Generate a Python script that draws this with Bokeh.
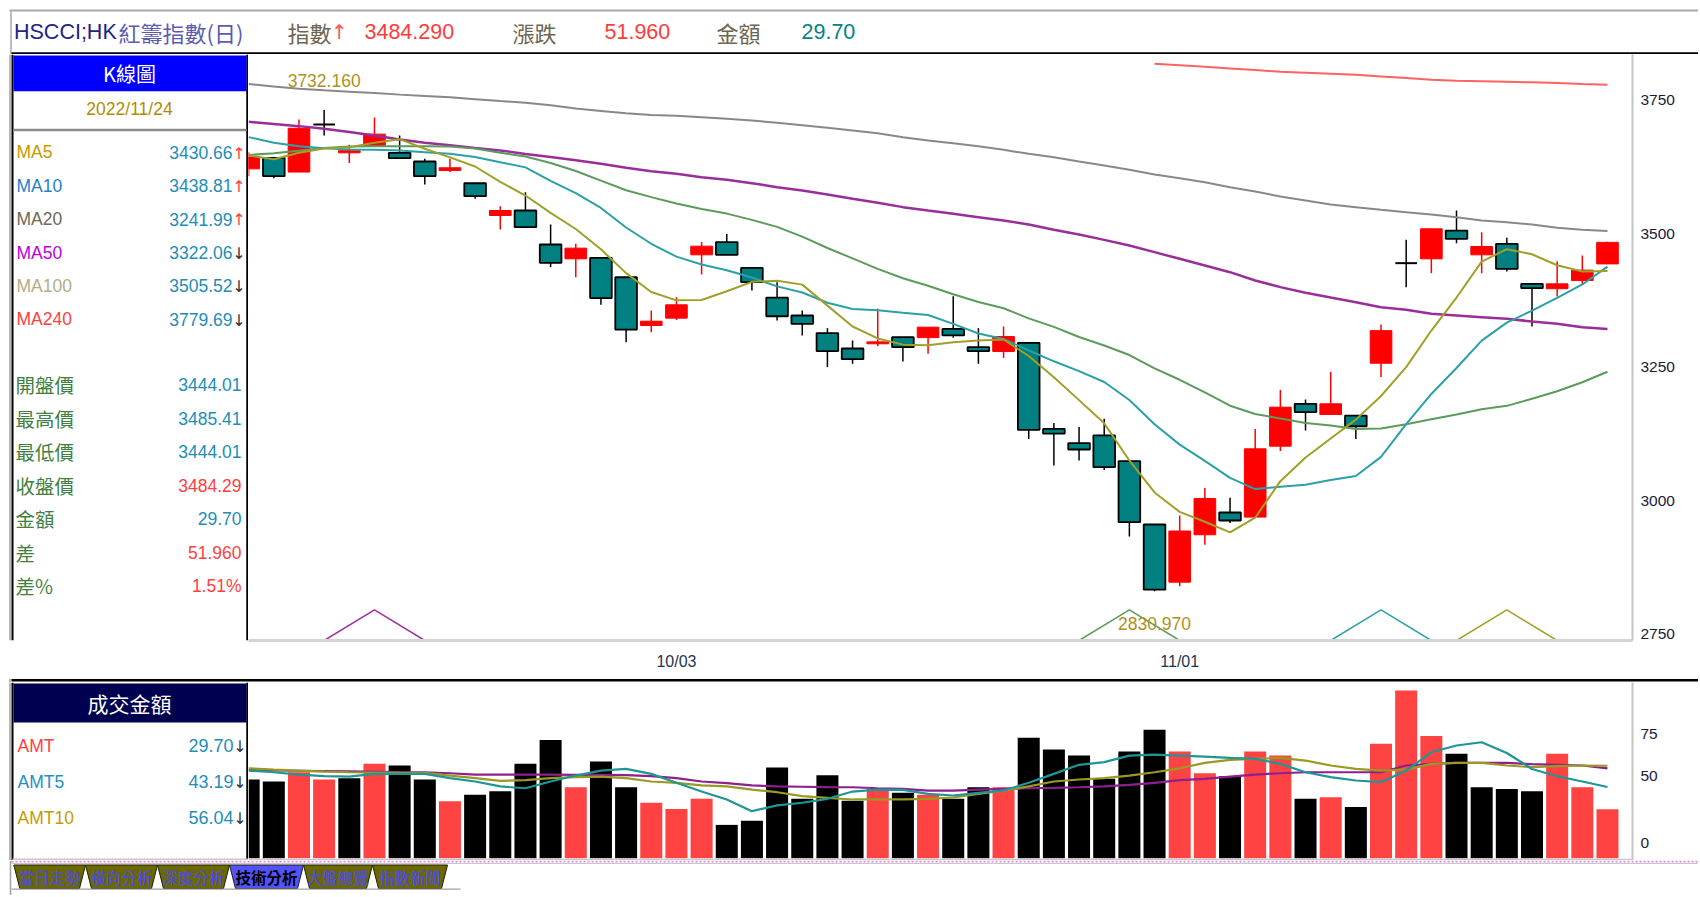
import numpy as np
from bokeh.plotting import figure
from bokeh.layouts import column, row
from bokeh.models import Range1d, FixedTicker, LinearAxis, Span, ColumnDataSource
from bokeh.core.properties import value
from bokeh.embed import file_html
from bokeh.resources import INLINE

SANS = "Liberation Sans"
CJK = "Noto Sans CJK TC"
ARROWF = "DejaVu Sans"

# ---------------- data ----------------
opens = [3622, 3642.7, 3616, 3705, 3652, 3665.7, 3652, 3635.8, 3619, 3595,
         3534.6, 3544, 3480.3, 3453.5, 3455.4, 3419, 3328.7, 3342.4, 3461, 3484.9,
         3436.6, 3381, 3347.4, 3314.5, 3285.6, 3294.4, 3306.8, 3306, 3322.4, 3288,
         3280, 3296, 3135, 3108.4, 3122.8, 3074.7, 2956, 2848, 2936.8, 2978.5,
         2969.8, 3102.6, 3182, 3162, 3160, 3258, 3445.4, 3453.5, 3506.5, 3461,
         3481.6, 3406.6, 3397.5, 3413, 3444.01]
highs = [3653, 3643, 3714.4, 3732.16, 3667, 3718, 3684.5, 3640.8, 3641, 3595,
         3552, 3578, 3517.8, 3481.6, 3455.4, 3419, 3356.7, 3381.7, 3484.9, 3500,
         3436.6, 3409.8, 3356.7, 3323.7, 3300.6, 3360, 3306.8, 3325.5, 3383.6, 3323.7,
         3326.8, 3296, 3146, 3138.4, 3154, 3074.7, 2956, 2972.8, 3024.2, 3006,
         3135, 3208, 3190, 3242, 3160, 3330.5, 3489.2, 3509.7, 3544, 3503.4,
         3493, 3406.6, 3449, 3459.7, 3485.41]
lows = [3608, 3604.5, 3616, 3684.5, 3633, 3665.7, 3642, 3592.7, 3616, 3566,
        3508.4, 3512.8, 3438, 3419, 3367.4, 3297.4, 3316, 3339, 3424.2, 3461,
        3394, 3338, 3310, 3250.7, 3257, 3290, 3261, 3275.6, 3305.6, 3257,
        3268, 3116, 3066.5, 3075.8, 3058, 2933.5, 2830.97, 2840.5, 2918, 2958.6,
        2969.8, 3093.6, 3132, 3162, 3116, 3232, 3400.4, 3426.6, 3482.8, 3426.6,
        3430, 3326.8, 3383, 3405, 3444.01]
closes = [3644, 3608.3, 3698, 3705, 3656, 3687, 3642, 3608.3, 3624, 3570.8,
          3544, 3512.8, 3446, 3473.5, 3380, 3321, 3336.7, 3367.4, 3477.2, 3461,
          3409.8, 3346, 3331.8, 3280.8, 3265.6, 3298, 3288, 3325.5, 3310, 3280.7,
          3308, 3133.3, 3126, 3096.4, 3063.3, 2960.4, 2834, 2943.8, 3004.7, 2963.5,
          3097.7, 3175.7, 3166.5, 3182, 3140, 3319, 3445.4, 3509.7, 3491, 3476.6,
          3434.8, 3398.6, 3406.6, 3432.33, 3484.29]

ma5 = [3647, 3640, 3652, 3660, 3662.3, 3670.9, 3677.6, 3659.7, 3643.5, 3626.4,
       3597.8, 3572.0, 3539.5, 3509.4, 3471.3, 3426.7, 3391.4, 3375.7, 3376.5, 3392.7,
       3410.4, 3412.3, 3405.2, 3365.9, 3326.8, 3304.4, 3292.8, 3291.6, 3297.4, 3300.4,
       3302.4, 3271.5, 3231.6, 3188.9, 3145.4, 3075.9, 3016.0, 2979.6, 2961.2, 2941.3,
       2968.7, 3037.1, 3081.6, 3117.1, 3152.4, 3196.6, 3250.6, 3319.2, 3381.0, 3448.3,
       3471.5, 3462.1, 3441.5, 3429.9, 3430.66]
ma10 = [3681.4, 3670.7, 3664.5, 3660.7, 3658.2, 3657.6, 3656.4, 3653.3, 3650.1, 3644.3,
        3634.3, 3624.8, 3599.6, 3576.4, 3548.8, 3512.2, 3481.7, 3457.6, 3442.9, 3432.0,
        3418.5, 3401.9, 3390.4, 3371.2, 3359.7, 3357.4, 3352.6, 3348.4, 3331.7, 3313.6,
        3303.4, 3282.2, 3261.6, 3243.2, 3222.9, 3189.2, 3143.8, 3105.6, 3075.1, 3043.3,
        3022.3, 3026.6, 3030.6, 3039.2, 3046.8, 3082.7, 3143.8, 3200.4, 3249.1, 3300.4,
        3334.1, 3356.4, 3380.4, 3405.5, 3438.81]
ma20 = [3648, 3651, 3656, 3661, 3664, 3664.5, 3664.5, 3664.5, 3664, 3660,
        3652, 3645, 3633, 3618, 3600, 3582, 3569, 3557, 3547, 3538.2,
        3526.4, 3513.3, 3495.0, 3473.8, 3454.3, 3434.8, 3417.1, 3403.0, 3387.3, 3372.8,
        3361.0, 3342.0, 3326.0, 3307.2, 3291.3, 3273.3, 3248.2, 3227.0, 3203.4, 3178.5,
        3162.9, 3154.4, 3146.1, 3141.2, 3134.9, 3135.9, 3143.8, 3153.0, 3162.1, 3171.9,
        3178.2, 3191.5, 3205.5, 3222.3, 3241.99]
ma50 = [3710, 3706, 3702, 3697, 3691, 3684.5, 3677, 3671, 3666, 3661,
        3656.4, 3650, 3644, 3638, 3631.4, 3624, 3617.7, 3612.7, 3606.4, 3601.4,
        3595.2, 3587.7, 3581.5, 3574, 3565.9, 3558.4, 3550.3, 3544, 3537.8, 3531.5,
        3525.3, 3517.8, 3507.8, 3499, 3489, 3478.5, 3466, 3453.5, 3441, 3428.5,
        3413, 3400.5, 3390, 3381, 3372.3, 3363, 3358, 3350.5, 3347.4, 3344.3,
        3341.2, 3336.1, 3331.8, 3325.5, 3322.06]
ma100 = [3781, 3776, 3772, 3769, 3766.5, 3764, 3761, 3758.5, 3756, 3752.5,
         3749, 3746, 3741, 3735, 3730.5, 3726, 3723, 3721.3, 3718.8, 3715.7,
         3712.6, 3708.2, 3703.8, 3698.8, 3693.8, 3688.8, 3681.3, 3675.1, 3670.1, 3664.5,
         3657.6, 3650.1, 3643.9, 3635.8, 3628.3, 3620.2, 3611.4, 3604.6, 3597.1, 3587.7,
         3579.6, 3570.2, 3562.7, 3555.2, 3550.2, 3545.3, 3540.9, 3536.5, 3531.5, 3525.3,
         3522.2, 3517.8, 3511.6, 3507.9, 3505.52]
# MA240 is above the top of the chart (not visible) before the 37th session
ma240 = [np.nan] * 36 + [3819, 3816, 3813, 3810, 3807, 3804, 3802, 3800, 3798, 3795,
                         3792, 3789, 3787, 3786, 3785, 3784, 3783, 3781, 3779.69]

amt = [47.7, 46.5, 52.1, 47.7, 48.5, 57.2, 56.2, 47.7, 34.5, 38.4,
       40.6, 57.2, 71.7, 43.0, 58.6, 43.0, 33.6, 29.9, 36.0, 20.2,
       22.7, 55.0, 36.0, 50.3, 34.8, 42.0, 39.6, 38.4, 36.0, 43.0,
       43.0, 73.0, 65.9, 62.2, 48.1, 64.7, 77.8, 64.7, 51.5, 49.7,
       64.7, 62.2, 36.0, 37.0, 31.1, 69.3, 101.6, 74.0, 63.3, 43.0,
       42.0, 40.6, 63.3, 43.0, 29.70]
amt_up = [0, 0, 1, 1, 0, 1, 0, 0, 1, 0,
          0, 0, 0, 1, 0, 0, 1, 1, 1, 0,
          0, 0, 0, 0, 0, 1, 0, 1, 0, 0,
          1, 0, 0, 0, 0, 0, 0, 1, 1, 0,
          1, 1, 0, 1, 0, 1, 1, 1, 0, 0,
          0, 0, 1, 1, 1]
amt5 = [53.1, 52.1, 50.7, 49.7, 49.5, 51.1, 51.1, 51.1, 48.5, 46.5,
        43.5, 42.4, 46.5, 50.1, 53.1, 54.1, 51.1, 45.7, 40.4, 35.6,
        28.5, 32.0, 33.6, 36.0, 40.4, 41.6, 41.4, 39.0, 38.0, 39.6,
        41.0, 45.7, 51.1, 56.6, 58.2, 62.2, 62.8, 62.2, 61.6, 60.8,
        60.2, 57.2, 52.1, 49.1, 47.1, 46.1, 53.1, 64.2, 68.3, 70.3,
        63.8, 54.1, 49.7, 46.5, 43.19]
amt10 = [54.5, 53.7, 53.1, 52.5, 52.1, 51.9, 51.7, 51.7, 50.1, 48.5,
         46.9, 47.3, 48.5, 49.1, 49.5, 48.5, 46.5, 45.7, 44.1, 43.5,
         41.6, 40.0, 37.6, 36.6, 35.6, 35.6, 35.6, 36.0, 36.8, 39.0,
         41.0, 43.5, 46.5, 47.7, 48.5, 50.1, 52.1, 54.5, 57.8, 59.6,
         60.2, 60.8, 59.2, 56.2, 54.1, 53.1, 53.7, 57.2, 57.8, 57.8,
         56.2, 55.2, 55.8, 56.2, 56.04]
amt20 = [53.5, 53.2, 53.0, 52.8, 52.6, 52.4, 52.2, 52.1, 51.5, 50.7,
         50.7, 50.7, 50.7, 50.5, 50.5, 50.3, 49.7, 48.5, 46.5, 45.5,
         44.1, 43.5, 43.3, 43.1, 43.0, 42.4, 42.0, 41.0, 41.0, 41.6,
         42.0, 42.4, 42.6, 43.0, 43.5, 44.5, 45.7, 47.3, 48.1, 49.5,
         50.7, 51.5, 52.1, 52.1, 52.1, 52.1, 56.2, 57.2, 57.8, 57.8,
         57.8, 57.0, 56.6, 56.2, 54.5]

date_ticks = [17, 37]
date_labels = ["10/03", "11/01"]
price_ticks = [2750, 3000, 3250, 3500, 3750]
vol_ticks = [9, 50, 75]          # the "0" label sits a little above the base, as in the reference
vol_labels = ["0", "50", "75"]

# small turning-point marks at the bottom of the price panel
mark_peaks = [5, 35, 45, 50]
mark_colors = ["#a030a0", "#5b9b5b", "#2aa0a8", "#a0a028"]
mark_top = 2796

change = 51.96
tabs = ["當日走勢", "橫向分析", "深度分析", "技術分析", "大盤總覽", "指數新聞"]
active_tab = 3

n = len(closes)
idx = list(range(n))

C_RED = "#ff0000"
C_TEAL = "#008080"
C_VRED = "#ff4242"
MA_COL = {"MA5": "#a0a028", "MA10": "#2aa0a8", "MA20": "#5b9b5b",
          "MA50": "#9b2d9b", "MA100": "#888888", "MA240": "#ff6262"}


# ---------------- helpers ----------------
def chrome(w, h, x0, y0):
    f = figure(width=w, height=h, x_range=Range1d(x0, x0 + w), y_range=Range1d(y0 + h, y0),
               output_backend="svg", toolbar_location=None, x_axis_type=None, y_axis_type=None,
               min_border=0, outline_line_color=None)
    f.background_fill_color = "white"
    f.border_fill_color = "white"
    return f


def T(f, x, y, s, color, size, font, align="left", baseline="middle", style="normal"):
    f.text(x=[x], y=[y], text=[s], text_color=color, text_font=value(font),
           text_font_size=f"{size}px", text_align=align, text_baseline=baseline,
           text_font_style=style)


def L(f, x0, y0, x1, y1, color, w, dash="solid"):
    f.segment(x0=[x0], y0=[y0], x1=[x1], y1=[y1], line_color=color, line_width=w, line_dash=dash)


def R(f, l, r, t, b, color, line=None):
    f.quad(left=[l], right=[r], top=[t], bottom=[b], fill_color=color, line_color=line)


W = 1698
XR = 1698  # right edge of the page content

# ---------------- header ----------------
hdr = chrome(W, 54, 0, 0)
L(hdr, 9, 10, XR, 10, "#a8a8a8", 2)
L(hdr, 10.5, 10, 10.5, 54, "#a8a8a8", 1.5)
L(hdr, 11, 53, XR, 53, "#000000", 2.5)
HY = 31
T(hdr, 13.5, HY, "HSCCI;HK", "#1e2488", 21.5, SANS)
T(hdr, 118, HY, "紅籌指數(日)", "#5c5cb0", 22, CJK)
T(hdr, 287, HY, "指數", "#6b6650", 22, CJK)
T(hdr, 339, HY, "↑", "#ff5050", 20, ARROWF, align="center")
T(hdr, 364, HY, f"{closes[-1]:.3f}", "#ff3b3b", 21.5, SANS)
T(hdr, 512, HY, "漲跌", "#6b6650", 22, CJK)
T(hdr, 604, HY, f"{change:.3f}", "#ff3b3b", 21.5, SANS)
T(hdr, 716, HY, "金額", "#6b6650", 22, CJK)
T(hdr, 801, HY, f"{amt[-1]:.2f}", "#008484", 21.5, SANS)

# ---------------- left panel (price) ----------------
lp = chrome(248, 620, 0, 54)
L(lp, 9.5, 54, 9.5, 674, "#a0a0a0", 1.5)
L(lp, 12, 54, 12, 674, "#000000", 2)
L(lp, 247, 54, 247, 674, "#000000", 2.5)
R(lp, 13, 246, 55, 93, "#0000ff")
T(lp, 129, 74, "K線圖", "#ffffff", 20, CJK, align="center")
T(lp, 129, 111.5, "2022/11/24", "#b08c00", 17.5, SANS, align="center")
L(lp, 13, 134, 246, 134, "#8c8c8c", 2.5)

ma_names = ["MA5", "MA10", "MA20", "MA50", "MA100", "MA240"]
ma_series = [ma5, ma10, ma20, ma50, ma100, ma240]
ma_label_cols = ["#c89a00", "#1f7fc8", "#6b6b55", "#c000dc", "#b4ad86", "#ff4040"]
ma_dirs = ["↑", "↑", "↑", "↓", "↓", "↓"]
VAL = "#1e8db8"
for k, nm in enumerate(ma_names):
    y = 157.3 + k * 35.4
    T(lp, 16, y, nm, ma_label_cols[k], 17.5, SANS)
    T(lp, 232, y, f"{ma_series[k][-1]:.2f}", VAL, 17.5, SANS, align="right")
    T(lp, 238.5, y + 1, ma_dirs[k], "#ff4040" if ma_dirs[k] == "↑" else "#333333", 16, ARROWF, align="center")

q_labels = ["開盤價", "最高價", "最低價", "收盤價", "金額", "差", "差%"]
q_values = [f"{opens[-1]:.2f}", f"{highs[-1]:.2f}", f"{lows[-1]:.2f}", f"{closes[-1]:.2f}",
            f"{amt[-1]:.2f}", f"{change:.3f}", f"{change / closes[-2] * 100:.2f}%"]
q_cols = [VAL, VAL, VAL, "#ff4040", VAL, "#ff4040", "#ff4040"]
for k, nm in enumerate(q_labels):
    y = 403.5 + k * 35.4
    T(lp, 15, y, nm, "#3f7f3f", 19.5, CJK)
    T(lp, 241, y, q_values[k], q_cols[k], 17.5, SANS, align="right")

# ---------------- price chart ----------------
xr = Range1d(-0.006, 54.994)
p = figure(width=W - 248, height=620, x_range=xr, y_range=Range1d(2738.76, 3836.14),
           output_backend="svg", toolbar_location=None, x_axis_type=None, y_axis_type=None,
           min_border_left=0, min_border_top=0, min_border_right=W - 1632, min_border_bottom=34,
           outline_line_color=None)
p.background_fill_color = "white"
p.border_fill_color = "white"

yax = LinearAxis(ticker=FixedTicker(ticks=price_ticks))
yax.axis_line_color = "#c4c4c4"
yax.axis_line_width = 2
yax.major_tick_line_color = None
yax.minor_tick_line_color = None
yax.major_label_text_font = SANS
yax.major_label_text_font_size = "15.5px"
yax.major_label_text_color = "#1a1a3a"
yax.major_label_standoff = 2
p.add_layout(yax, "right")

xax = LinearAxis(ticker=FixedTicker(ticks=date_ticks),
                 major_label_overrides={t: s for t, s in zip(date_ticks, date_labels)})
xax.axis_line_color = "#d4d4d4"
xax.axis_line_width = 3
xax.major_tick_line_color = None
xax.minor_tick_line_color = None
xax.major_label_text_font = SANS
xax.major_label_text_font_size = "16px"
xax.major_label_text_color = "#1c3650"
xax.major_label_standoff = 6
p.add_layout(xax, "below")

# bottom marks
p.multi_line(xs=[[m - 2, m, m + 2] for m in mark_peaks],
             ys=[[2738.76, mark_top, 2738.76] for m in mark_peaks],
             line_color=mark_colors, line_width=1.5)

up = [i for i in idx if closes[i] > opens[i]]
dn = [i for i in idx if closes[i] < opens[i]]
dj = [i for i in idx if closes[i] == opens[i]]
BW = 0.86

p.segment(x0=up, x1=up, y0=[lows[i] for i in up], y1=[highs[i] for i in up], line_color=C_RED, line_width=1.5)
p.segment(x0=dn + dj, x1=dn + dj, y0=[lows[i] for i in dn + dj], y1=[highs[i] for i in dn + dj],
          line_color="#000000", line_width=1.5)
p.vbar(x=up, width=BW, bottom=[opens[i] for i in up], top=[closes[i] for i in up],
       fill_color=C_RED, line_color=C_RED, line_width=1)
p.vbar(x=dn, width=BW, bottom=[closes[i] for i in dn], top=[opens[i] for i in dn],
       fill_color=C_TEAL, line_color="#000000", line_width=1.8)
p.segment(x0=[i - BW / 2 for i in dj], x1=[i + BW / 2 for i in dj], y0=[opens[i] for i in dj],
          y1=[opens[i] for i in dj], line_color="#000000", line_width=2)

for nm, ser, w in [("MA100", ma100, 2), ("MA240", ma240, 2), ("MA50", ma50, 2.5),
                   ("MA20", ma20, 2), ("MA10", ma10, 2), ("MA5", ma5, 2)]:
    p.line(x=np.array(idx, dtype=float), y=np.array(ser, dtype=float), line_color=MA_COL[nm], line_width=w)

hi_i = int(np.argmax(highs))
lo_i = int(np.argmin(lows))
p.text(x=[hi_i], y=[highs[hi_i]], text=[f"{highs[hi_i]:.3f}"], text_color="#b0901a",
       text_font=value(SANS), text_font_size="17.5px", text_align="center",
       text_baseline="bottom", y_offset=-23)
p.text(x=[lo_i], y=[lows[lo_i]], text=[f"{lows[lo_i]:.3f}"], text_color="#b0901a",
       text_font=value(SANS), text_font_size="17.5px", text_align="center",
       text_baseline="top", y_offset=26)

# ---------------- separator ----------------
sep = chrome(W, 8, 0, 674)
L(sep, 9.5, 674, 9.5, 682, "#a0a0a0", 1.5)
L(sep, 11, 675.8, XR, 675.8, "#000000", 2.5)
L(sep, 11, 680.5, XR, 680.5, "#c8c8c8", 2)

# ---------------- left panel (volume) ----------------
lv = chrome(248, 178, 0, 682)
L(lv, 9.5, 682, 9.5, 860, "#a0a0a0", 1.5)
L(lv, 12, 682, 12, 860, "#000000", 2)
L(lv, 247, 682, 247, 860, "#000000", 2.5)
L(lv, 12, 859, 248, 859, "#c8c8c8", 2)
R(lv, 13, 246, 683, 722, "#000050")
T(lv, 129, 702.5, "成交金額", "#ffffff", 21, CJK, align="center")
amt_names = ["AMT", "AMT5", "AMT10"]
amt_series = [amt, amt5, amt10]
amt_cols = ["#ff4040", "#1f8fc8", "#c89a00"]
for k, nm in enumerate(amt_names):
    y = 745 + k * 36
    T(lv, 17, y, nm, amt_cols[k], 17.5, SANS)
    T(lv, 233, y, f"{amt_series[k][-1]:.2f}", VAL, 18, SANS, align="right")
    T(lv, 239.5, y + 1, "↓", "#333333", 16, ARROWF, align="center")

# ---------------- volume chart ----------------
v = figure(width=W - 248, height=178, x_range=xr, y_range=Range1d(-1.39, 106.5),
           output_backend="svg", toolbar_location=None, x_axis_type=None, y_axis_type=None,
           min_border_left=0, min_border_top=0, min_border_right=W - 1632, min_border_bottom=0,
           outline_line_color=None)
v.background_fill_color = "white"
v.border_fill_color = "white"
vax = LinearAxis(ticker=FixedTicker(ticks=vol_ticks),
                 major_label_overrides={t: s for t, s in zip(vol_ticks, vol_labels)})
vax.axis_line_color = "#c4c4c4"
vax.axis_line_width = 2
vax.major_tick_line_color = None
vax.minor_tick_line_color = None
vax.major_label_text_font = SANS
vax.major_label_text_font_size = "15.5px"
vax.major_label_text_color = "#1a1a3a"
vax.major_label_standoff = 2
v.add_layout(vax, "right")
v.add_layout(Span(location=-0.9, dimension="width", line_color="#c8c8c8", line_width=2))

vsrc = ColumnDataSource(dict(x=idx, top=amt, color=[C_VRED if u else "#000000" for u in amt_up]))
v.vbar(x="x", top="top", bottom=0, width=0.875, fill_color="color", line_color=None, source=vsrc)
v.line(x=idx, y=amt20, line_color="#8e1f8e", line_width=2.2)
v.line(x=idx, y=amt10, line_color="#9a9a22", line_width=2.2)
v.line(x=idx, y=amt5, line_color="#1f9696", line_width=2.2)

# ---------------- tab bar ----------------
tb = chrome(W, 35, 0, 860)
L(tb, 10, 860, 10, 895, "#a0a0a0", 1.5)
L(tb, 11, 861, XR, 861, "#ee80ee", 2, "2 2")
L(tb, 11, 863, XR, 863, "#c8c8c8", 1.2)
tab_l = [13.3, 85, 157, 229, 303, 372]
tab_r = [85, 157, 229, 303, 372, 447]
tb.patches(xs=[[a, b, b - 6, a + 6] for a, b in zip(tab_l, tab_r)],
           ys=[[864.5, 864.5, 888, 888] for _ in tab_l],
           fill_color=["#5252ff" if k == active_tab else "#6c6800" for k in range(len(tabs))],
           line_color="#202000", line_width=1)
for k, s in enumerate(tabs):
    cx = (tab_l[k] + tab_r[k]) / 2
    if k == active_tab:
        T(tb, cx, 876.5, s, "#000000", 15.5, CJK, align="center", style="bold")
    else:
        T(tb, cx, 876.5, s, "#4848ff", 15.5, CJK, align="center")
L(tb, 11, 888.6, 460, 888.6, "#a0a0a0", 1.2)

layout = column(hdr, row(lp, p), sep, row(lv, v), tb)
open("out.html", "w").write(file_html(layout, INLINE))
